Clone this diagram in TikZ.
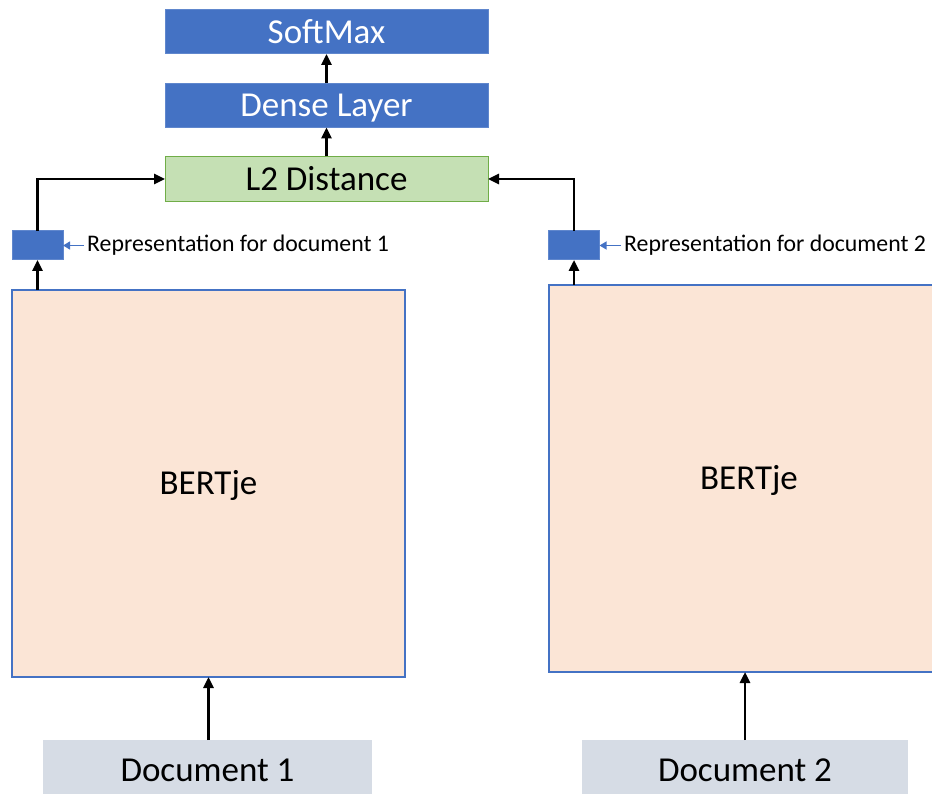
\documentclass[tikz,border=0pt]{standalone}
\usepackage{fontspec}
\setmainfont{Carlito}
\usetikzlibrary{arrows.meta}

\definecolor{accentblue}{HTML}{4472C4}
\definecolor{distfill}{HTML}{C5E0B4}
\definecolor{distline}{HTML}{70AD47}
\definecolor{bertfill}{HTML}{FBE5D6}
\definecolor{docfill}{HTML}{D6DCE5}

\tikzset{
  base/.style={rectangle, inner sep=0pt, outer sep=0pt, align=center,
    font=\fontsize{35}{40}\selectfont, text height=22.5pt, text depth=0pt},
  layerbox/.style={base, fill=accentblue, draw=accentblue!85!white, line width=1pt,
    text=white, minimum width=323pt, minimum height=44pt},
  distbox/.style={base, fill=distfill, draw=distline, line width=1pt,
    minimum width=323pt, minimum height=45pt},
  bertbox/.style={base, fill=bertfill, draw=accentblue, line width=1.1pt},
  docbox/.style={base, fill=docfill},
  reprbox/.style={rectangle, inner sep=0pt, outer sep=0pt, fill=accentblue,
    draw=accentblue!85!white, line width=1pt, minimum width=51pt, minimum height=29pt},
  reprlabel/.style={inner sep=0pt, anchor=west, font=\fontsize{23.8}{28}\selectfont},
  flow/.style={line width=2.6pt, -{Triangle[length=11pt,width=10pt]}},
  pointer/.style={draw=accentblue, line width=1.3pt, -{Triangle[length=7pt,width=8pt]}}
}

\begin{document}
\begin{tikzpicture}[x=1pt, y=-1pt]
  \useasboundingbox (0,0) rectangle (932,794);
  \clip (0,0) rectangle (932,794);

  % classification head
  \node[layerbox] (soft)  at (326.5,32)    {SoftMax};
  \node[layerbox] (dense) at (326.5,105.5) {Dense Layer};
  \node[distbox]  (dist)  at (326.5,179)   {L2 Distance};

  % the two encoders
  \node[bertbox, minimum width=393pt, minimum height=387pt] (bert1) at (208.5,483.5) {BERTje};
  \node[bertbox, minimum width=400pt, minimum height=387pt] (bert2) at (749,478.5) {BERTje};

  % input documents (their lower part runs off the page)
  \node[docbox, minimum width=329pt, minimum height=61pt] (doc1) at (207.5,770.5) {Document 1};
  \node[docbox, minimum width=326pt, minimum height=61pt] (doc2) at (745,770.5) {Document 2};

  % pooled representations
  \node[reprbox] (rep1) at (37.5,245.5)  {};
  \node[reprbox] (rep2) at (574,245.5)   {};
  \node[reprlabel] (lab1) at (87,245.5)  {Representation for document 1};
  \node[reprlabel] (lab2) at (624,245.5) {Representation for document 2};

  % connectors
  \draw[flow] (doc1.north -| bert1.south) -- (bert1.south);
  \draw[flow] (doc2.north) -- (doc2.north |- bert2.south);
  \draw[flow] (bert1.north -| rep1.south) -- (rep1.south);
  \draw[flow] (bert2.north -| rep2.south) -- (rep2.south);
  \draw[flow] (rep1.north) |- (dist.west);
  \draw[flow] (rep2.north) |- (dist.east);
  \draw[flow] (dist.north) -- (dense.south);
  \draw[flow] (dense.north) -- (soft.south);

  \draw[pointer] (lab1.west) ++(-3,0) -- (rep1.east);
  \draw[pointer] (lab2.west) ++(-3,0) -- (rep2.east);
\end{tikzpicture}
\end{document}
